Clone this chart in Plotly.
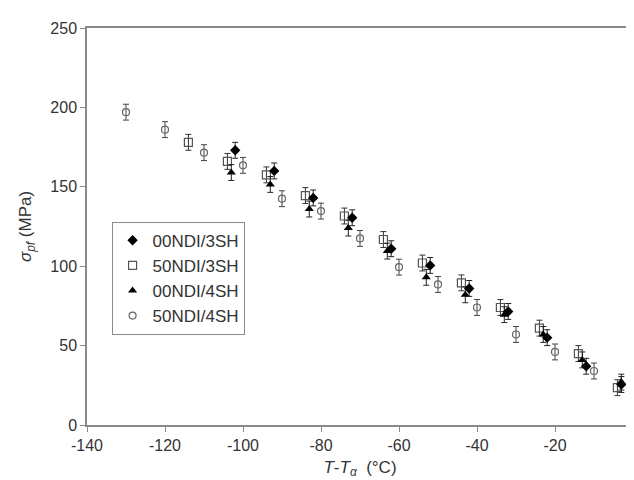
import plotly.graph_objects as go

# 00NDI/3SH (filled diamond)
x_00_3 = [-102, -92, -82, -72, -62, -52, -42, -32, -22, -12, -3]
y_00_3 = [173, 160, 143, 130.5, 111, 100.5, 86, 71.5, 55, 37, 25.5]
e_00_3 = [5, 5, 5, 5, 5, 5, 5, 5, 5, 5, 5]

# 50NDI/3SH (open square)
x_50_3 = [-114, -104, -94, -84, -74, -64, -54, -44, -34, -24, -14, -4]
y_50_3 = [178, 166, 157.5, 144.5, 131.6, 116.8, 102, 89.5, 74, 61, 45, 23.5]
e_50_3 = [5, 5, 5, 5, 5, 5, 5, 5, 5, 5, 5, 5]

# 00NDI/4SH (filled triangle)
x_00_4 = [-103, -93, -83, -73, -63, -53, -43, -33, -23, -13, -3]
y_00_4 = [159, 151.5, 136, 124, 109.5, 93, 82, 69.5, 57, 41, 27]
e_00_4 = [5, 5, 5, 5, 5, 5, 5, 5, 5, 5, 5]

# 50NDI/4SH (open circle)
x_50_4 = [-130, -120, -110, -100, -90, -80, -70, -60, -50, -40, -30, -20, -10]
y_50_4 = [197, 186, 171.5, 163.5, 142.5, 134.7, 117.5, 99.4, 88.5, 74, 57, 46, 34]
e_50_4 = [5, 5, 5, 5, 5, 5, 5, 5, 5, 5, 5, 5, 5]

x_ticks = [-140, -120, -100, -80, -60, -40, -20, 0]
x_tick_labels = ["-140", "-120", "-100", "-80", "-60", "-40", "-20", "0"]
y_ticks = [0, 50, 100, 150, 200, 250]
y_tick_labels = ["0", "50", "100", "150", "200", "250"]

AX = "#8a8a8a"
TXT = "#333333"
FONT = "Liberation Sans, Arial, sans-serif"


def err(arr, color):
    return dict(type="data", array=arr, visible=True, color=color, thickness=1, width=3)


fig = go.Figure()
fig.add_trace(go.Scatter(x=x_50_4, y=y_50_4, mode="markers", name="50NDI/4SH", legendrank=4,
                         marker=dict(symbol="circle-open", size=7, color="#666666", line=dict(width=1.2)),
                         error_y=err(e_50_4, "#444444")))
fig.add_trace(go.Scatter(x=x_50_3, y=y_50_3, mode="markers", name="50NDI/3SH", legendrank=2,
                         marker=dict(symbol="square-open", size=8, color="#555555", line=dict(width=1.2)),
                         error_y=err(e_50_3, "#333333")))
fig.add_trace(go.Scatter(x=x_00_4, y=y_00_4, mode="markers", name="00NDI/4SH", legendrank=3,
                         marker=dict(symbol="triangle-up", size=8, color="#000000"),
                         error_y=err(e_00_4, "#222222")))
fig.add_trace(go.Scatter(x=x_00_3, y=y_00_3, mode="markers", name="00NDI/3SH", legendrank=1,
                         marker=dict(symbol="diamond", size=8, color="#000000"),
                         error_y=err(e_00_3, "#222222")))

fig.update_layout(
    width=634, height=480,
    margin=dict(l=79, r=4, t=20, b=63),
    paper_bgcolor="white", plot_bgcolor="white",
    font=dict(family=FONT, size=16, color=TXT),
    showlegend=True,
    legend=dict(x=0.045, y=0.512, xanchor="left", yanchor="top",
                bordercolor=AX, borderwidth=1, bgcolor="white",
                font=dict(size=17, color=TXT), traceorder="normal",
                itemwidth=30, tracegroupgap=0),
    xaxis=dict(range=[-140, 0], tickmode="array", tickvals=x_ticks, ticktext=x_tick_labels,
               showline=True, linecolor=AX, linewidth=1.5, mirror=True,
               ticks="outside", ticklen=5, tickcolor=AX, showgrid=False, zeroline=False,
               title=dict(text="<i>T</i>-<i>T<sub>α</sub></i>  (°C)", font=dict(size=17), standoff=8)),
    yaxis=dict(range=[0, 250], tickmode="array", tickvals=y_ticks, ticktext=y_tick_labels,
               showline=True, linecolor=AX, linewidth=1.5, mirror=True,
               ticks="outside", ticklen=5, tickcolor=AX, showgrid=False, zeroline=False,
               title=dict(text="<i>σ<sub>pf</sub></i> (MPa)", font=dict(size=17), standoff=14)),
)

fig.write_html("out.html")
